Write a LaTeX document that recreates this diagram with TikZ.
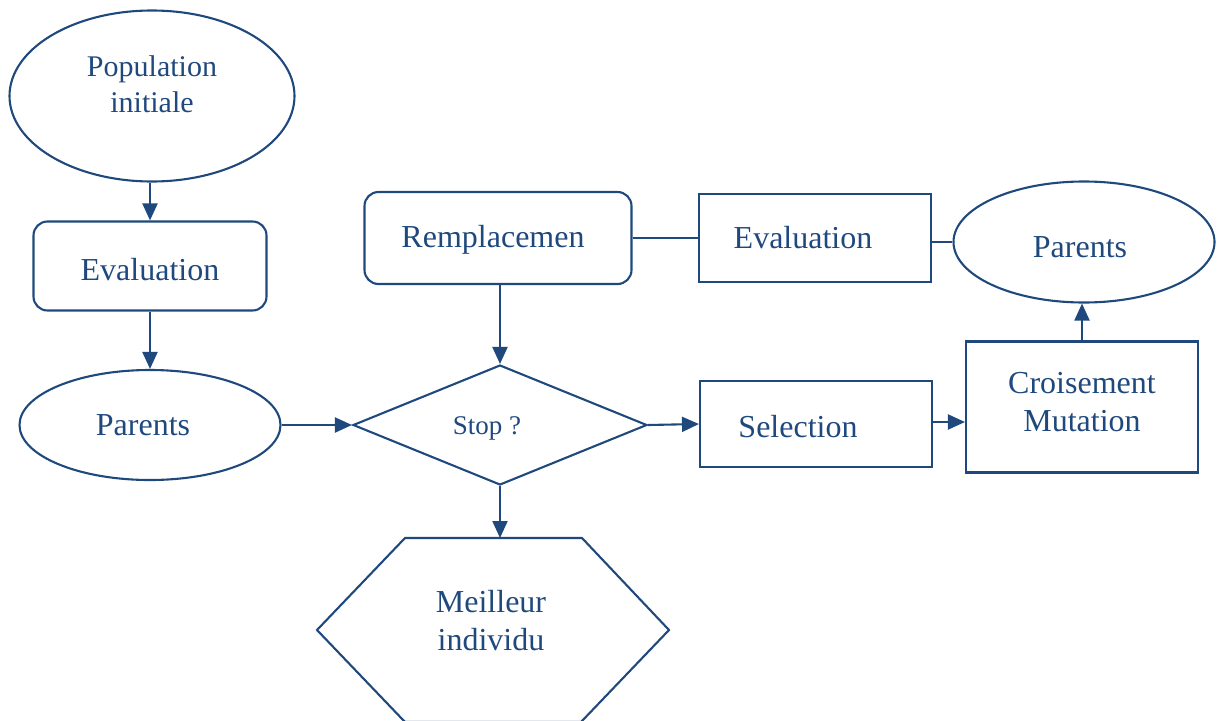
\documentclass[tikz,border=0pt]{standalone}
\usepackage{fontspec}
\setmainfont{Liberation Serif}
\usetikzlibrary{shapes.geometric,arrows.meta}
\definecolor{flowblue}{RGB}{31,73,125}
\newcommand{\lowertext}[2]{\raisebox{-#1}[\height][\depth]{#2}}
\begin{document}
\begin{tikzpicture}[x=1pt, y=1pt,
    every node/.style={text=flowblue, font=\fontsize{32}{38}\selectfont, align=center, inner sep=0pt},
    shapeline/.style={draw=flowblue, line width=2.1pt},
    roundbox/.style={shapeline, rounded corners=14pt},
    flatbox/.style={shapeline},
    oval/.style={shapeline, ellipse},
    decision/.style={shapeline, diamond},
    arr/.style={draw=flowblue, line width=2.1pt, -{Triangle[length=17pt,width=15pt]}},
    link/.style={draw=flowblue, line width=2.1pt}]
    \useasboundingbox (0,0) rectangle (1220,-720);
    \clip (0,0) rectangle (1220,-720);
    % left column
    \node[oval, minimum width=285, minimum height=171, font=\fontsize{30}{36}\selectfont] (pop) at (152,-96) {Population\\initiale\\[-12pt]};
    \node[roundbox, minimum width=233, minimum height=89] (evalA) at (150,-266) {\lowertext{4pt}{Evaluation}};
    \node[oval, minimum width=261, minimum height=110] (parA) at (150,-425) {Parents\hspace{14pt}};
    % middle
    \node[decision, minimum width=294, minimum height=120, font=\fontsize{27}{32}\selectfont] (stop) at (500,-425) {\lowertext{3pt}{Stop ?}\hspace{26pt}};
    \node[roundbox, minimum width=267, minimum height=92] (repl) at (498,-238) {\lowertext{2pt}{Remplacemen}\hspace{10pt}};
    \coordinate (besttop) at (500,-538);
    \draw[shapeline] (317,-630) -- (405,-538) -- (582,-538) -- (669,-630) -- (581,-722) -- (405,-722) -- cycle;
    \node (best) at (491,-621) {Meilleur\\individu};
    % right side
    \node[flatbox, minimum width=232, minimum height=88] (evalB) at (815,-238) {Evaluation\hspace{24pt}};
    \node[oval, minimum width=261, minimum height=121] (parB) at (1084,-242) {\lowertext{5pt}{Parents}\hspace{8pt}};
    \node[flatbox, minimum width=232, minimum height=86] (sel) at (816,-424) {\lowertext{3pt}{Selection}\hspace{36pt}};
    \node[flatbox, minimum width=232, minimum height=131] (cm) at (1082,-407) {Croisement\\Mutation\\[-28pt]};
    % connectors
    \draw[arr] (evalA.north |- pop.south) -- (evalA.north);
    \draw[arr] (evalA.south) -- (parA.north);
    \draw[arr] (parA.east) -- (stop.west);
    \draw[arr] (stop.north |- repl.south) -- (stop.north);
    \draw[arr] (stop.east) -- (sel.west);
    \draw[arr] (stop.south) -- (besttop);
    \draw[arr] ([yshift=2pt]sel.east) -- ([yshift=2pt]sel.east -| cm.west);
    \draw[arr] (cm.north) -- (cm.north |- parB.south);
    \draw[link] (repl.east) -- (evalB.west);
    \draw[link] ([yshift=-4pt]evalB.east) -- (parB.west);
\end{tikzpicture}
\end{document}
